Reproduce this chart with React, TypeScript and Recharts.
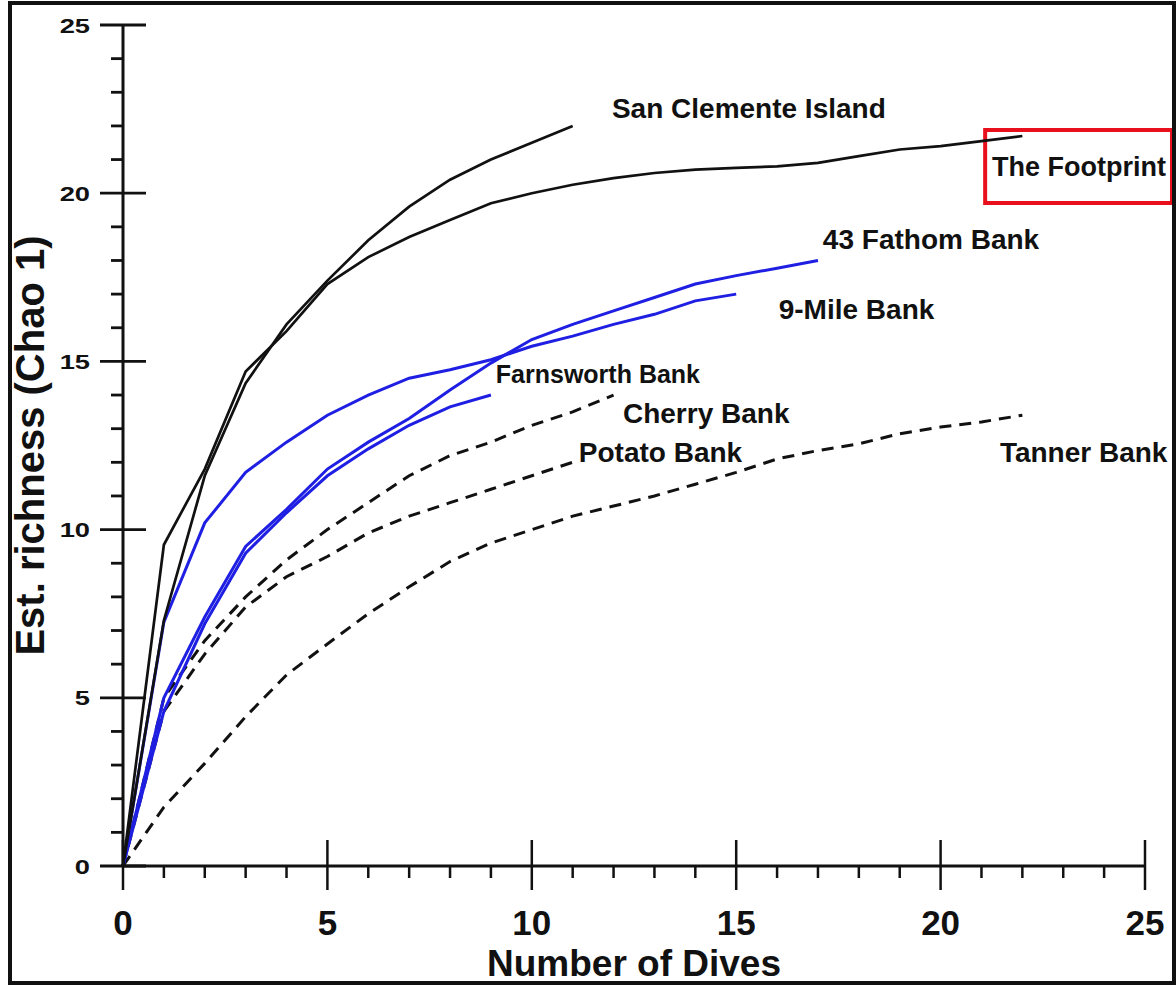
import { LineChart, Line, XAxis, YAxis, ReferenceDot, ReferenceArea } from "recharts"

const FONT = "'Liberation Sans', Arial, Helvetica, sans-serif"
const BLUE = "#1f1fe3"
const INK = "#111"

// tick values (every dive / every species, labels only on multiples of 5)
const xTicks = Array.from({ length: 26 }, (_, i) => i)
const yTicks = Array.from({ length: 26 }, (_, i) => i)

// est. richness per number of dives (index = dives)
const sanClemente = [0, 7.3, 11.6, 14.35, 16.1, 17.4, 18.6, 19.6, 20.4, 21.0, 21.5, 22.0]
const footprint = [0, 9.55, 11.8, 14.7, 15.9, 17.3, 18.1, 18.7, 19.2, 19.7, 20.0, 20.25, 20.45, 20.6, 20.7, 20.75, 20.8, 20.9, 21.1, 21.3, 21.4, 21.55, 21.7]
const fathom43 = [0, 5.0, 7.4, 9.5, 10.6, 11.8, 12.6, 13.3, 14.15, 14.95, 15.65, 16.1, 16.5, 16.9, 17.3, 17.55, 17.77, 18.0]
const nineMile = [0, 7.25, 10.2, 11.7, 12.6, 13.4, 14.0, 14.5, 14.75, 15.05, 15.45, 15.75, 16.1, 16.4, 16.8, 17.0]
const farnsworth = [0, 4.6, 7.2, 9.3, 10.5, 11.6, 12.4, 13.1, 13.65, 14.0]
const cherry = [0, 5.0, 6.7, 8.0, 9.1, 10.0, 10.8, 11.6, 12.2, 12.6, 13.1, 13.5, 14.0]
const potato = [0, 4.6, 6.3, 7.7, 8.6, 9.2, 9.9, 10.4, 10.8, 11.2, 11.6, 12.0]
const tanner = [0, 1.75, 3.05, 4.44, 5.68, 6.6, 7.5, 8.3, 9.05, 9.6, 10.0, 10.4, 10.7, 11.0, 11.35, 11.7, 12.1, 12.35, 12.55, 12.85, 13.05, 13.2, 13.4]

const toPoints = (vals: number[]) => vals.map((v, i) => ({ dives: i, richness: v }))

function XTick({ x, y, payload }: any) {
  const major = payload.value % 5 === 0
  return (
    <g>
      <line x1={x} x2={x} y1={major ? y - 26 : y} y2={major ? y + 24 : y + 12} stroke={INK} strokeWidth={2.5} />
      {major && (
        <text x={x} y={y + 69} textAnchor="middle" fontSize={35} fontWeight="bold" fill={INK} fontFamily={FONT}>
          {payload.value}
        </text>
      )}
    </g>
  )
}

function YTick({ x, y, payload }: any) {
  const major = payload.value % 5 === 0
  return (
    <g>
      <line x1={major ? x - 23 : x - 12} x2={major ? x + 23 : x} y1={y} y2={y} stroke={INK} strokeWidth={2.8} />
      {major && (
        <text transform={`translate(${x - 33},${y + 7.5}) scale(1.3,1)`} textAnchor="end" fontSize={21} fontWeight="bold" fill={INK} fontFamily={FONT}>
          {payload.value}
        </text>
      )}
    </g>
  )
}

// text placed with its left edge / vertical centre on the reference point
const note = (text: string, size = 28) => (props: any) => {
  const vb = props.viewBox || {}
  return (
    <text x={vb.x} y={vb.y} dominantBaseline="central" fontSize={size} fontWeight="bold" fill={INK} fontFamily={FONT}>
      {text}
    </text>
  )
}

export default function App() {
  return (
    <div style={{ position: "absolute", left: 0, top: 0, width: 1176, height: 986, background: "#fff" }}>
      <LineChart width={1176} height={986} margin={{ top: 25, right: 31, bottom: 0, left: 0 }}>
        <XAxis
          type="number"
          dataKey="dives"
          domain={[0, 25]}
          ticks={xTicks}
          interval={0}
          height={120}
          tickSize={0}
          tickMargin={0}
          tickLine={false}
          tick={<XTick />}
          axisLine={{ stroke: INK, strokeWidth: 3 }}
          label={{ value: "Number of Dives", position: "insideBottom", offset: 10, fontSize: 37, fontWeight: "bold", fill: INK, fontFamily: FONT }}
        />
        <YAxis
          type="number"
          domain={[0, 25]}
          ticks={yTicks}
          interval={0}
          width={123}
          tickSize={0}
          tickMargin={0}
          tickLine={false}
          tick={<YTick />}
          axisLine={{ stroke: INK, strokeWidth: 3 }}
          label={{ value: "Est. richness (Chao 1)", angle: -90, position: "insideLeft", offset: 30, fontSize: 40, fontWeight: "bold", fill: INK, fontFamily: FONT, style: { textAnchor: "middle" } }}
        />

        <Line data={toPoints(tanner)} dataKey="richness" type="linear" stroke={INK} strokeWidth={3} strokeDasharray="12 8" dot={false} isAnimationActive={false} />
        <Line data={toPoints(potato)} dataKey="richness" type="linear" stroke={INK} strokeWidth={3} strokeDasharray="12 8" dot={false} isAnimationActive={false} />
        <Line data={toPoints(cherry)} dataKey="richness" type="linear" stroke={INK} strokeWidth={3} strokeDasharray="12 8" dot={false} isAnimationActive={false} />

        <Line data={toPoints(farnsworth)} dataKey="richness" type="linear" stroke={BLUE} strokeWidth={3} dot={false} isAnimationActive={false} />
        <Line data={toPoints(nineMile)} dataKey="richness" type="linear" stroke={BLUE} strokeWidth={3} dot={false} isAnimationActive={false} />
        <Line data={toPoints(fathom43)} dataKey="richness" type="linear" stroke={BLUE} strokeWidth={3} dot={false} isAnimationActive={false} />

        <Line data={toPoints(footprint)} dataKey="richness" type="linear" stroke={INK} strokeWidth={2.7} dot={false} isAnimationActive={false} />
        <Line data={toPoints(sanClemente)} dataKey="richness" type="linear" stroke={INK} strokeWidth={2.7} dot={false} isAnimationActive={false} />

        <ReferenceArea x1={21.09} x2={25.66} y1={19.71} y2={21.88} ifOverflow="visible" fill="none" stroke="#e8101c" strokeWidth={4} />

        <ReferenceDot x={11.96} y={22.53} r={0} fill="none" stroke="none" ifOverflow="visible" label={note("San Clemente Island")} />
        <ReferenceDot x={21.26} y={20.78} r={0} fill="none" stroke="none" ifOverflow="visible" label={note("The Footprint", 27)} />
        <ReferenceDot x={17.12} y={18.61} r={0} fill="none" stroke="none" ifOverflow="visible" label={note("43 Fathom Bank")} />
        <ReferenceDot x={16.04} y={16.53} r={0} fill="none" stroke="none" ifOverflow="visible" label={note("9-Mile Bank")} />
        <ReferenceDot x={9.12} y={14.63} r={0} fill="none" stroke="none" ifOverflow="visible" label={note("Farnsworth Bank", 25)} />
        <ReferenceDot x={12.23} y={13.44} r={0} fill="none" stroke="none" ifOverflow="visible" label={note("Cherry Bank")} />
        <ReferenceDot x={11.15} y={12.28} r={0} fill="none" stroke="none" ifOverflow="visible" label={note("Potato Bank")} />
        <ReferenceDot x={21.45} y={12.28} r={0} fill="none" stroke="none" ifOverflow="visible" label={note("Tanner Bank")} />
      </LineChart>
      <div style={{ position: "absolute", left: 8, top: 1, width: 1168, height: 984, border: "4px solid #111", boxSizing: "border-box", pointerEvents: "none" }} />
    </div>
  )
}
